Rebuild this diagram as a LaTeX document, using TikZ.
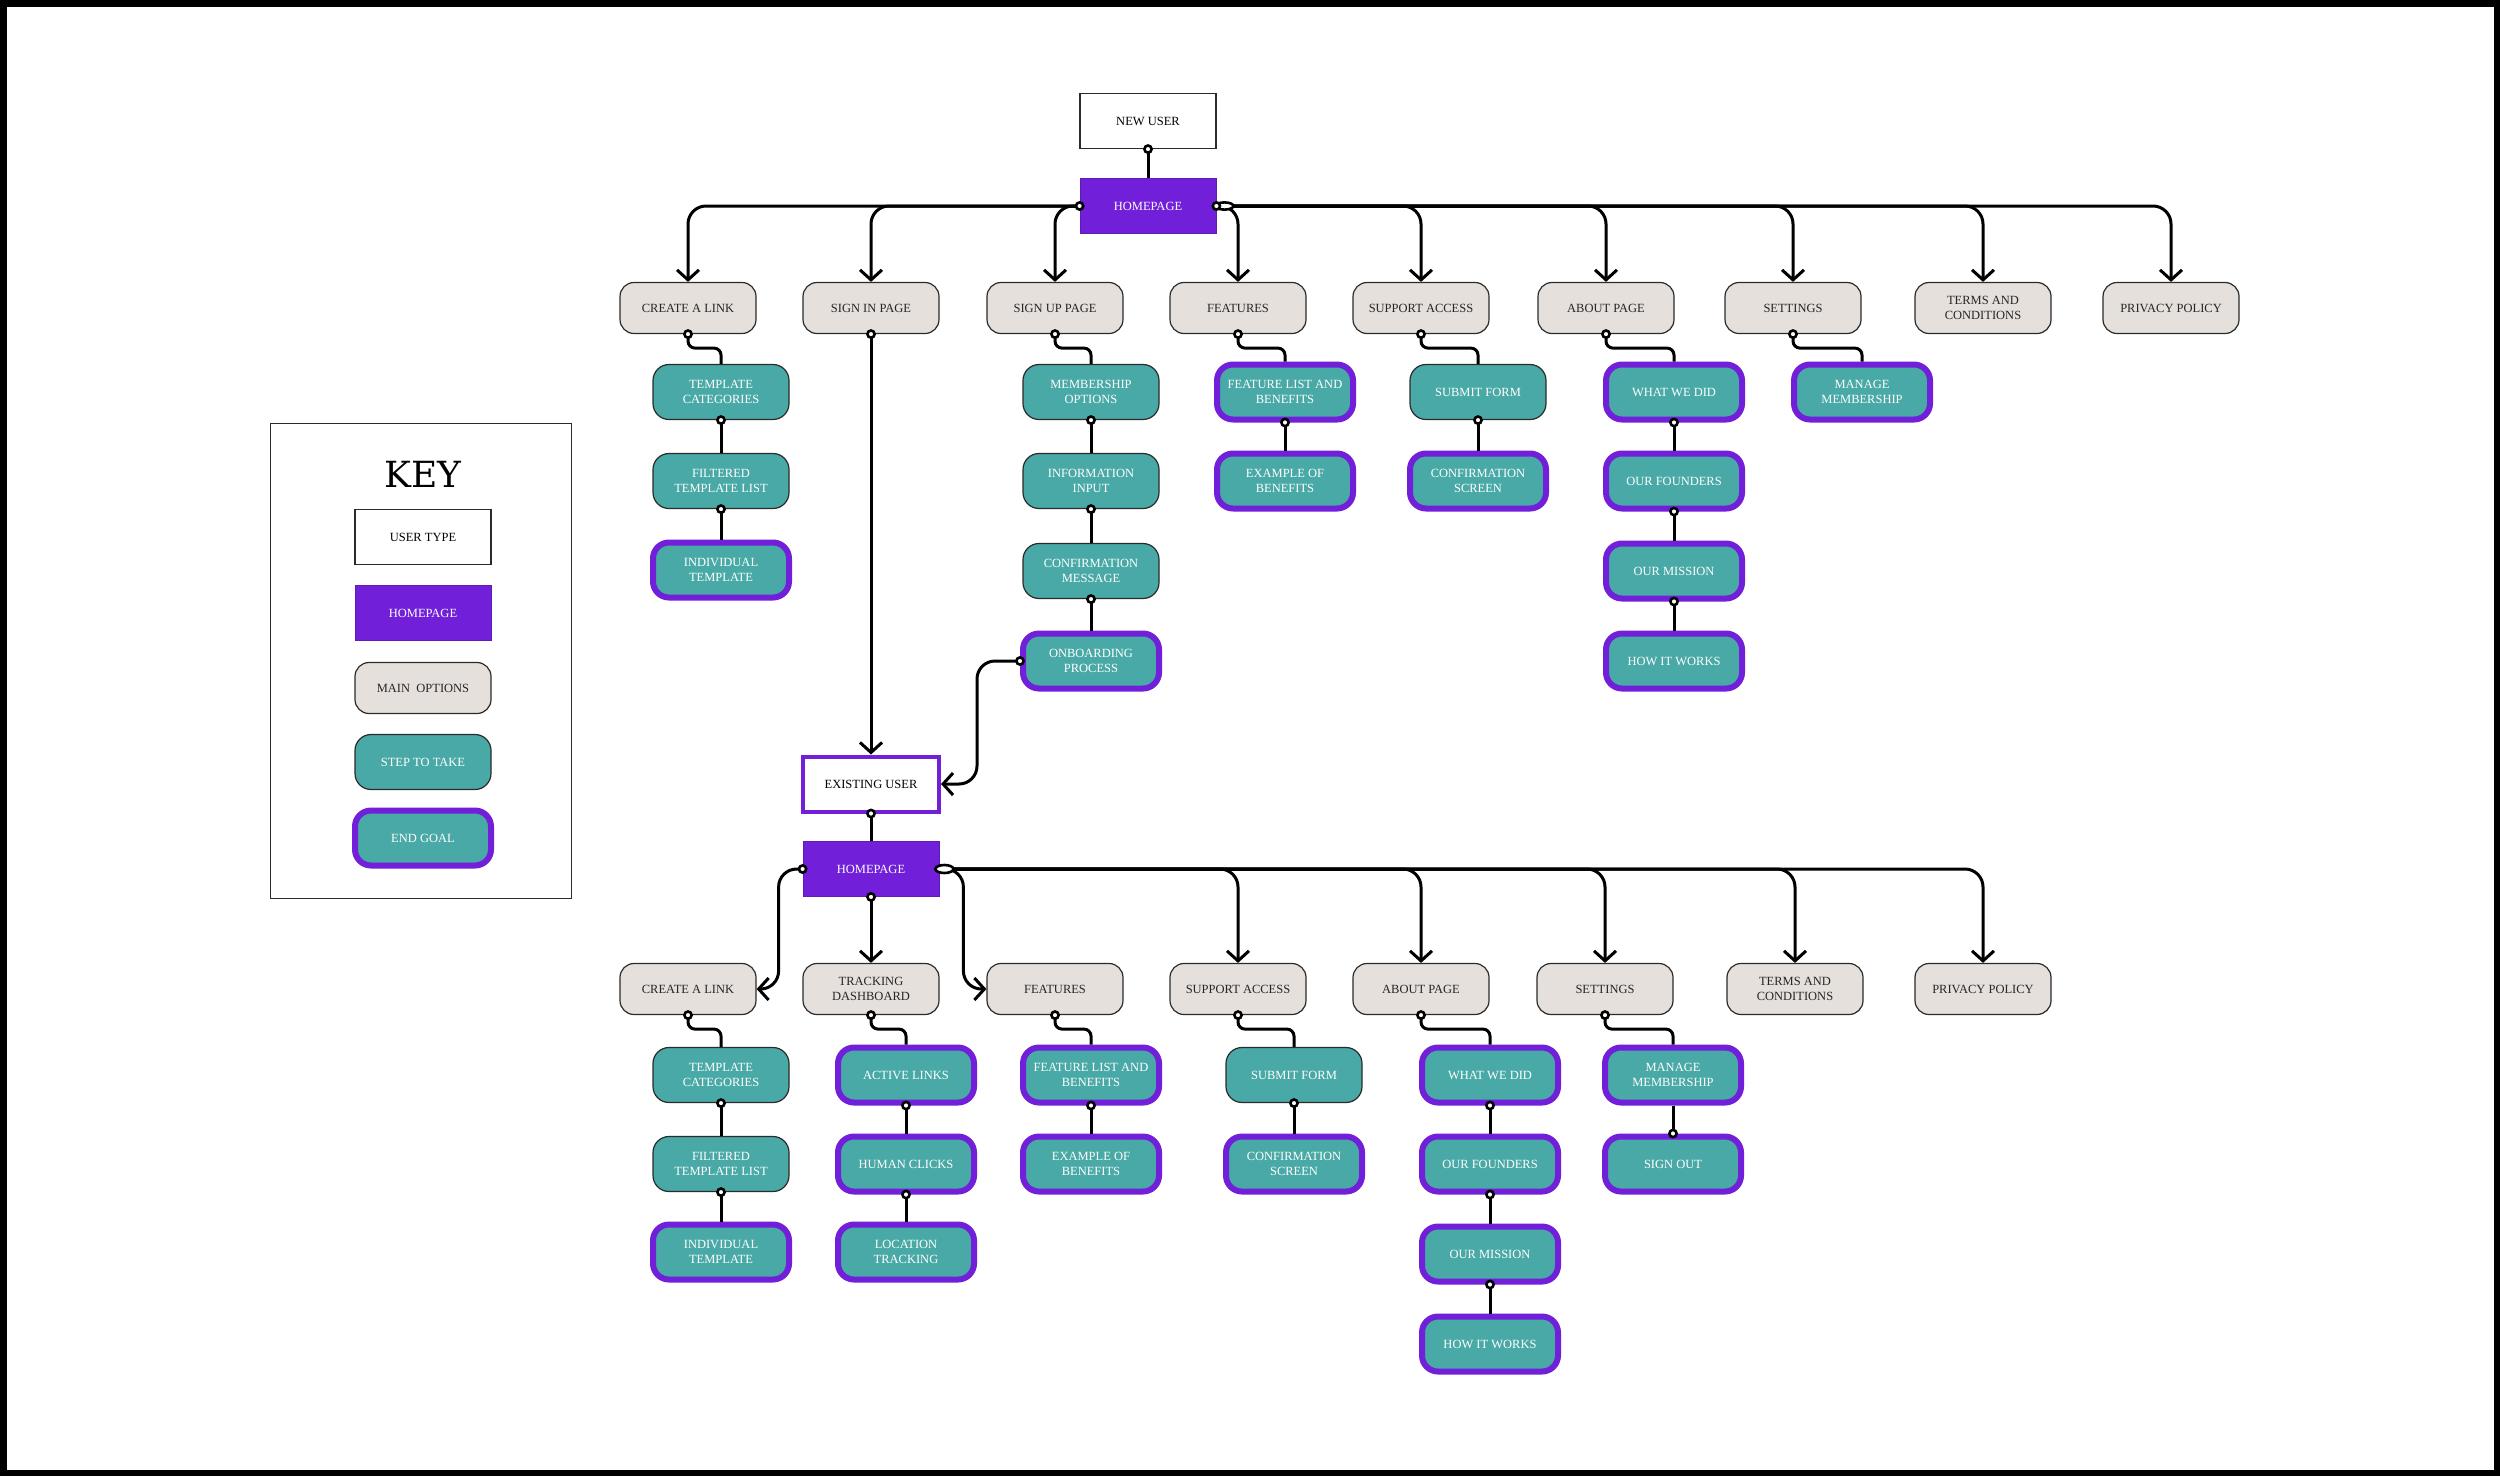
\documentclass[tikz,border=0pt]{standalone}
\usepackage{fontspec}
\setmainfont{Liberation Serif}
\newfontfamily\keyfont{DejaVu Serif}
\usetikzlibrary{arrows.meta}
\definecolor{hpurple}{HTML}{721FD9}
\definecolor{stepteal}{HTML}{48A9A6}
\definecolor{optgray}{HTML}{E5E0DC}
\definecolor{edgegray}{HTML}{2B2B2B}

\begin{document}
\begin{tikzpicture}[x=1pt, y=-1pt,
    box/.style={
      minimum width=136pt, minimum height=55pt, inner sep=2pt,
      align=center, font=\fontsize{12.5}{14.5}\selectfont
    },
    usertype/.style={box, draw=edgegray, line width=1.2pt, fill=white, text=black},
    home/.style={box, fill=hpurple, draw=hpurple!85!black, line width=0.8pt, text=white},
    mainopt/.style={box, minimum height=51pt, rounded corners=14pt, fill=optgray,
      draw=edgegray, line width=1.2pt, text=black!85},
    steptake/.style={box, rounded corners=16pt, fill=stepteal, draw=edgegray,
      line width=1.2pt, text=white},
    endgoal/.style={steptake, draw=hpurple, line width=6pt},
    link/.style={line width=3pt, rounded corners=18pt},
    flow/.style={link, -{Straight Barb[length=10pt, width=22pt]}},
    slink/.style={line width=3pt, rounded corners=7pt},
    portdot/.style={draw, line width=2.6pt, fill=white},
  ]
  \useasboundingbox (0,0) rectangle (2500,1476);
  \fill[white] (0,0) rectangle (2500,1476);
  \draw[line width=6.5pt] (3.25,3.25) rectangle (2496.75,1472.75);

  % --- Key ---
  \node[draw=edgegray, line width=1.2pt, minimum width=301pt, minimum height=475pt] (keybox) at (421,661) {};
  \node[font=\keyfont\fontsize{36}{40}\selectfont] (keytitle) at (423,474) {KEY};
  \node[usertype] (kuser) at (423,537) {USER TYPE};
  \node[home] (khome) at (423,613) {HOMEPAGE};
  \node[mainopt] (kmain) at (423,688) {MAIN~ OPTIONS};
  \node[steptake] (kstep) at (423,762) {STEP TO TAKE};
  \node[endgoal] (kgoal) at (423,838) {END GOAL};

  % --- New user ---
  \node[usertype] (nu) at (1148,121) {NEW USER};
  \node[home] (hp1) at (1148,206) {HOMEPAGE};

  \foreach \nm/\x/\txt in {cl1/688/CREATE A LINK, si1/871/SIGN IN PAGE, su1/1055/SIGN UP PAGE,
      fe1/1238/FEATURES, sa1/1421/SUPPORT ACCESS, ab1/1606/ABOUT PAGE, se1/1793/SETTINGS,
      tac1/1983/{TERMS AND\\CONDITIONS}, pp1/2171/PRIVACY POLICY}
    \node[mainopt] (\nm) at (\x,308) {\txt};

  \node[steptake] (tcat1) at (721,392) {TEMPLATE\\CATEGORIES};
  \node[steptake] (ftl1) at (721,481) {FILTERED\\TEMPLATE LIST};
  \node[endgoal] (it1) at (721,570) {INDIVIDUAL\\TEMPLATE};

  \node[steptake] (mo1) at (1091,392) {MEMBERSHIP\\OPTIONS};
  \node[steptake] (ii1) at (1091,481) {INFORMATION\\INPUT};
  \node[steptake] (cm1) at (1091,571) {CONFIRMATION\\MESSAGE};
  \node[endgoal] (ob1) at (1091,661) {ONBOARDING\\PROCESS};

  \node[endgoal] (flb1) at (1285,392) {FEATURE LIST AND\\BENEFITS};
  \node[endgoal] (eob1) at (1285,481) {EXAMPLE OF\\BENEFITS};

  \node[steptake] (sf1) at (1478,392) {SUBMIT FORM};
  \node[endgoal] (cs1) at (1478,481) {CONFIRMATION\\SCREEN};

  \node[endgoal] (wwd1) at (1674,392) {WHAT WE DID};
  \node[endgoal] (of1) at (1674,481) {OUR FOUNDERS};
  \node[endgoal] (om1) at (1674,571) {OUR MISSION};
  \node[endgoal] (hiw1) at (1674,661) {HOW IT WORKS};

  \node[endgoal] (mm1) at (1862,392) {MANAGE\\MEMBERSHIP};

  % --- Existing user ---
  \node[usertype, draw=hpurple, line width=4pt] (eu) at (871,784) {EXISTING USER};
  \node[home] (hp2) at (871,869) {HOMEPAGE};

  \foreach \nm/\x/\txt in {cl2/688/CREATE A LINK, td2/871/{TRACKING\\DASHBOARD}, fe2/1055/FEATURES,
      sa2/1238/SUPPORT ACCESS, ab2/1421/ABOUT PAGE, se2/1605/SETTINGS,
      tac2/1795/{TERMS AND\\CONDITIONS}, pp2/1983/PRIVACY POLICY}
    \node[mainopt] (\nm) at (\x,989) {\txt};

  \node[steptake] (tcat2) at (721,1075) {TEMPLATE\\CATEGORIES};
  \node[steptake] (ftl2) at (721,1164) {FILTERED\\TEMPLATE LIST};
  \node[endgoal] (it2) at (721,1252) {INDIVIDUAL\\TEMPLATE};

  \node[endgoal] (al2) at (906,1075) {ACTIVE LINKS};
  \node[endgoal] (hc2) at (906,1164) {HUMAN CLICKS};
  \node[endgoal] (lt2) at (906,1252) {LOCATION\\TRACKING};

  \node[endgoal] (flb2) at (1091,1075) {FEATURE LIST AND\\BENEFITS};
  \node[endgoal] (eob2) at (1091,1164) {EXAMPLE OF\\BENEFITS};

  \node[steptake] (sf2) at (1294,1075) {SUBMIT FORM};
  \node[endgoal] (cs2) at (1294,1164) {CONFIRMATION\\SCREEN};

  \node[endgoal] (wwd2) at (1490,1075) {WHAT WE DID};
  \node[endgoal] (of2) at (1490,1164) {OUR FOUNDERS};
  \node[endgoal] (om2) at (1490,1254) {OUR MISSION};
  \node[endgoal] (hiw2) at (1490,1344) {HOW IT WORKS};

  \node[endgoal] (mm2) at (1673,1075) {MANAGE\\MEMBERSHIP};
  \node[endgoal] (so2) at (1673,1164) {SIGN OUT};

  % --- Connectors, top ---
  \draw[link] (nu.south) -- (hp1.north);
  \foreach \t in {cl1, si1, su1}
    \draw[flow] (hp1.west) -| (\t.north);
  \foreach \t in {fe1, sa1, ab1, se1, tac1, pp1}
    \draw[flow] (hp1.east) -| (\t.north);
  \draw[flow] (si1.south) -- (eu.north);
  \draw[flow] (ob1.west) -- ++(-43,0) |- (eu.east);

  % --- Connectors, bottom ---
  \draw[link] (eu.south) -- (hp2.north);
  \draw[flow] (hp2.west) -- ++(-24,0) |- (cl2.east);
  \draw[flow] (hp2.south) -- (td2.north);
  \draw[flow] (hp2.east) -- ++(24,0) |- (fe2.west);
  \foreach \t in {sa2, ab2, se2, tac2, pp2}
    \draw[flow] (hp2.east) -| (\t.north);

  % option -> first step
  \foreach \a/\b in {cl1/tcat1, su1/mo1, fe1/flb1, sa1/sf1, ab1/wwd1, se1/mm1,
      cl2/tcat2, td2/al2, fe2/flb2, sa2/sf2, ab2/wwd2, se2/mm2} {
    \draw[slink] (\a.south) -- ++(0,14) -| (\b.north);
    \draw[portdot] (\a.south) circle[radius=3.6];
  }
  % step -> step
  \foreach \a/\b in {tcat1/ftl1, ftl1/it1, mo1/ii1, ii1/cm1, cm1/ob1, flb1/eob1, sf1/cs1,
      wwd1/of1, of1/om1, om1/hiw1, tcat2/ftl2, ftl2/it2, al2/hc2, hc2/lt2, flb2/eob2,
      sf2/cs2, wwd2/of2, of2/om2, om2/hiw2} {
    \draw[link] (\a.south) -- (\b.north);
    \draw[portdot] (\a.south) circle[radius=3.6];
  }
  \draw[link] (mm2.south) -- (so2.north);
  \draw[portdot] (so2.north) circle[radius=3.6];

  % ports
  \foreach \p in {nu.south, hp1.west, si1.south, ob1.west, eu.south, hp2.west, hp2.south}
    \draw[portdot] (\p) circle[radius=3.6];
  \draw[portdot] ([xshift=8pt]hp1.east) ellipse[x radius=9, y radius=3.6];
  \draw[portdot] (hp1.east) circle[radius=3.6];
  \draw[portdot] ([xshift=5pt]hp2.east) ellipse[x radius=9, y radius=4];
\end{tikzpicture}
\end{document}
